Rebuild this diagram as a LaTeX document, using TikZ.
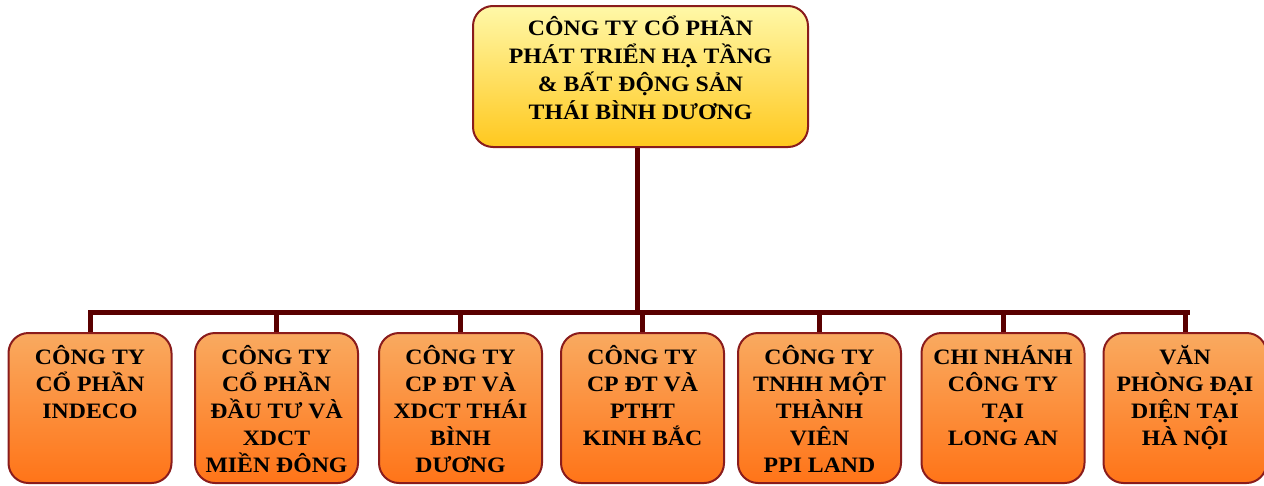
\documentclass[tikz,border=0pt]{standalone}
\usepackage{fontspec}
\setmainfont{Liberation Serif}[FakeStretch=1.08]
\definecolor{bordr}{HTML}{8A1C1C}
\definecolor{conn}{HTML}{5A0000}
\definecolor{ytop}{HTML}{FFF8A8}
\definecolor{ybot}{HTML}{FFC81E}
\definecolor{otop}{HTML}{F9AA60}
\definecolor{obot}{HTML}{FF7418}
\tikzset{
  topbox/.style={draw=bordr, line width=2pt, rounded corners=20pt, top color=ytop, bottom color=ybot, minimum width=335pt, minimum height=141pt, inner sep=0pt},
  subbox/.style={draw=bordr, line width=2pt, rounded corners=20pt, top color=otop, bottom color=obot, minimum width=163pt, minimum height=150pt, inner sep=0pt},
  lbl/.style={font=\bfseries\fontsize{22}{27}\selectfont, align=center, anchor=north, inner sep=0pt},
  conline/.style={draw=conn, line width=5pt}
}
\begin{document}
\begin{tikzpicture}[x=1pt,y=-1pt]
\useasboundingbox (0,0) rectangle (1264,485);
\node[topbox] (top) at (640.5,76.5) {};
\node[lbl, font=\bfseries\fontsize{22}{28}\selectfont] (toptxt) at (640.5,16) {CÔNG TY CỔ PHẦN\\PHÁT TRIỂN HẠ TẦNG\\\& BẤT ĐỘNG SẢN\\THÁI BÌNH DƯƠNG};
\coordinate (hub) at (637,312);
\coordinate (hl) at (90,312);
\coordinate (hr) at (1187,312);
\draw[conline] (top.south -| hub) -- (hub);
\draw[conline, line cap=rect] (hl) -- (hr);
\foreach \n/\x/\t in {
 a/90/{CÔNG TY\\CỔ PHẦN\\INDECO},
 b/276.5/{CÔNG TY\\CỔ PHẦN\\ĐẦU TƯ VÀ\\XDCT\\MIỀN ĐÔNG},
 c/460.5/{CÔNG TY\\CP ĐT VÀ\\XDCT THÁI\\BÌNH\\DƯƠNG},
 d/642.5/{CÔNG TY\\CP ĐT VÀ\\PTHT\\KINH BẮC},
 e/819.5/{CÔNG TY\\TNHH MỘT\\THÀNH\\VIÊN\\PPI LAND},
 f/1003/{CHI NHÁNH\\CÔNG TY\\TẠI\\LONG AN},
 g/1185/{VĂN\\PHÒNG ĐẠI\\DIỆN TẠI\\HÀ NỘI}} {
  \node[subbox] (\n) at (\x,408) {};
  \node[lbl] (\n t) at (\x,345) {\t};
  \draw[conline] (\n.north |- hub) -- (\n.north);
}
\end{tikzpicture}
\end{document}
